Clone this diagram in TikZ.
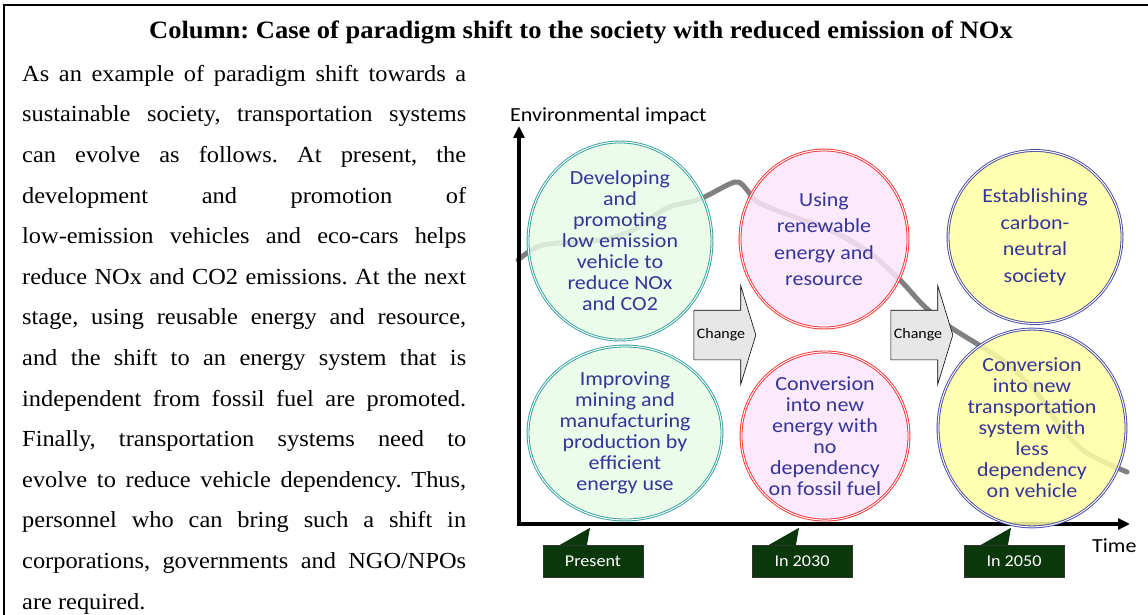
\documentclass[tikz,border=0pt]{standalone}
\usepackage{fontspec}
\setmainfont{Liberation Serif}
\newfontfamily\wideserif[FakeStretch=1.06]{Liberation Serif}
\newfontfamily\cali[FakeStretch=1.1]{Carlito}
\usepackage{tikz}
\usetikzlibrary{arrows.meta,shapes.geometric,shapes.arrows,calc}

\definecolor{bluetext}{HTML}{353597}
\definecolor{greenfill}{HTML}{E8FBE8}
\definecolor{greenline}{HTML}{2E9E9A}
\definecolor{pinkfill}{HTML}{FBE5FB}
\definecolor{pinkline}{HTML}{F03030}
\definecolor{yellowfill}{HTML}{FFFFA5}
\definecolor{yellowline}{HTML}{4545A0}
\definecolor{datefill}{HTML}{0B380B}
\definecolor{changefill}{HTML}{E7E7E7}

\tikzset{
  stage/.style={ellipse,draw=#1line,fill=#1fill,fill opacity=0.85,text opacity=1,
                double=white,double distance=1pt,line width=0.9pt,inner sep=0pt,
                align=center,text=bluetext,font=\cali\fontsize{20}{21}\selectfont},
  wide/.style={font=\cali\fontsize{20}{26.5}\selectfont},
  datebox/.style={fill=datefill,draw=black!80,line width=0.4pt,text=white,
                  minimum width=100pt,minimum height=32pt,inner sep=0pt,
                  font=\cali\fontsize{16.5}{18}\selectfont},
  changearrow/.style={single arrow,draw=black,fill=changefill,line width=0.6pt,
                  minimum height=62pt,minimum width=98pt,single arrow head extend=24.5pt,
                  single arrow tip angle=146,inner xsep=0pt,inner ysep=18pt,
                  text height=10pt,text depth=3pt,text=black,
                  font=\cali\fontsize{14.5}{16}\selectfont}
}

\begin{document}
\begin{tikzpicture}[x=1pt,y=-1pt]
\useasboundingbox (0,0) rectangle (1148,615);
\draw[line width=2pt] (4,615) -- (4,5) -- (1148,5);

\node[font=\wideserif\bfseries\fontsize{25}{27}\selectfont,anchor=base] (title) at (581,39)
  {\frenchspacing Column: Case of paradigm shift to the society with reduced emission of NOx};

\node[anchor=north west,inner sep=0pt,text width=444pt,align=justify,
      font=\wideserif\fontsize{23}{40.6}\selectfont] (story) at (22,65)
  {\frenchspacing\hyphenpenalty=10000\tolerance=10000
   As an example of paradigm shift towards a\linebreak
   sustainable society, transportation systems\linebreak
   can evolve as follows. At present, the\linebreak
   development and promotion of\linebreak
   low-emission vehicles and eco-cars helps\linebreak
   reduce NOx and CO2 emissions. At the next\linebreak
   stage, using reusable energy and resource,\linebreak
   and the shift to an energy system that is\linebreak
   independent from fossil fuel are promoted.\linebreak
   Finally, transportation systems need to\linebreak
   evolve to reduce vehicle dependency. Thus,\linebreak
   personnel who can bring such a shift in\linebreak
   corporations, governments and NGO/NPOs\linebreak
   are required.};

\coordinate (O) at (519,524);
\coordinate (ytip) at (519,126);
\coordinate (xtip) at (1130,524);
\node[font=\cali\fontsize{20}{22}\selectfont,anchor=base west,inner sep=0pt] (ylab) at (510,122) {Environmental impact};
\node[font=\cali\fontsize{20}{22}\selectfont,anchor=base west,inner sep=0pt] (xlab) at (1092,552) {Time};

\draw[line width=5pt,color=black!50,line cap=round] plot[smooth,tension=0.5] coordinates
  {(518,260) (543,245) (600,240) (633,230) (667,208) (700,199) (735,182) (747,190)
   (756,201) (783,213) (830,230) (870,253) (900,280) (923,305) (947,325) (987,350)
   (1010,366) (1037,393) (1060,426) (1087,453) (1127,472)};

\draw[line width=3.5pt,-{Triangle[length=12pt,width=11pt]}] (O) -- (ytip);
\draw[line width=3.5pt,-{Triangle[length=12pt,width=11pt]}] ([xshift=-1.75pt]O) -- (xtip);

\node[stage=green,minimum width=184pt,minimum height=192pt] (dev) at (620,241)
  {Developing\\and\\promoting\\low emission\\vehicle to\\reduce NOx\\and CO2};
\node[stage=green,minimum width=194pt,minimum height=174pt] (mine) at (625,433)
  {Improving\\mining and\\manufacturing\\production by\\efficient\\energy use};
\node[stage=pink,wide,minimum width=168pt,minimum height=178pt] (renew) at (824,239)
  {Using\\renewable\\energy and\\resource};
\node[stage=pink,minimum width=168pt,minimum height=168pt] (fossil) at (825,436)
  {Conversion\\into new\\energy with\\no\\dependency\\on fossil fuel};
\node[stage=yellow,wide,minimum width=174pt,minimum height=173pt] (neutral) at (1035,237)
  {Establishing\\carbon-\\neutral\\society};
\node[stage=yellow,minimum width=188pt,minimum height=174pt] (transport) at (1032,428)
  {Conversion\\into new\\transportation\\system with\\less\\dependency\\on vehicle};

\node[changearrow] (chg1) at (721,335) {Change};
\node[changearrow] (chg2) at (918,335) {Change};

\node[datebox] (present) at (593,561) {Present};
\node[datebox] (y2030) at (802,561) {In 2030};
\node[datebox] (y2050) at (1014,561) {In 2050};
\foreach \d in {present,y2030,y2050}
  \fill[datefill] ([xshift=-33pt]\d.north) -- ([xshift=-3pt,yshift=17pt]\d.north)
    -- ([xshift=-6pt]\d.north) -- cycle;
\end{tikzpicture}
\end{document}
